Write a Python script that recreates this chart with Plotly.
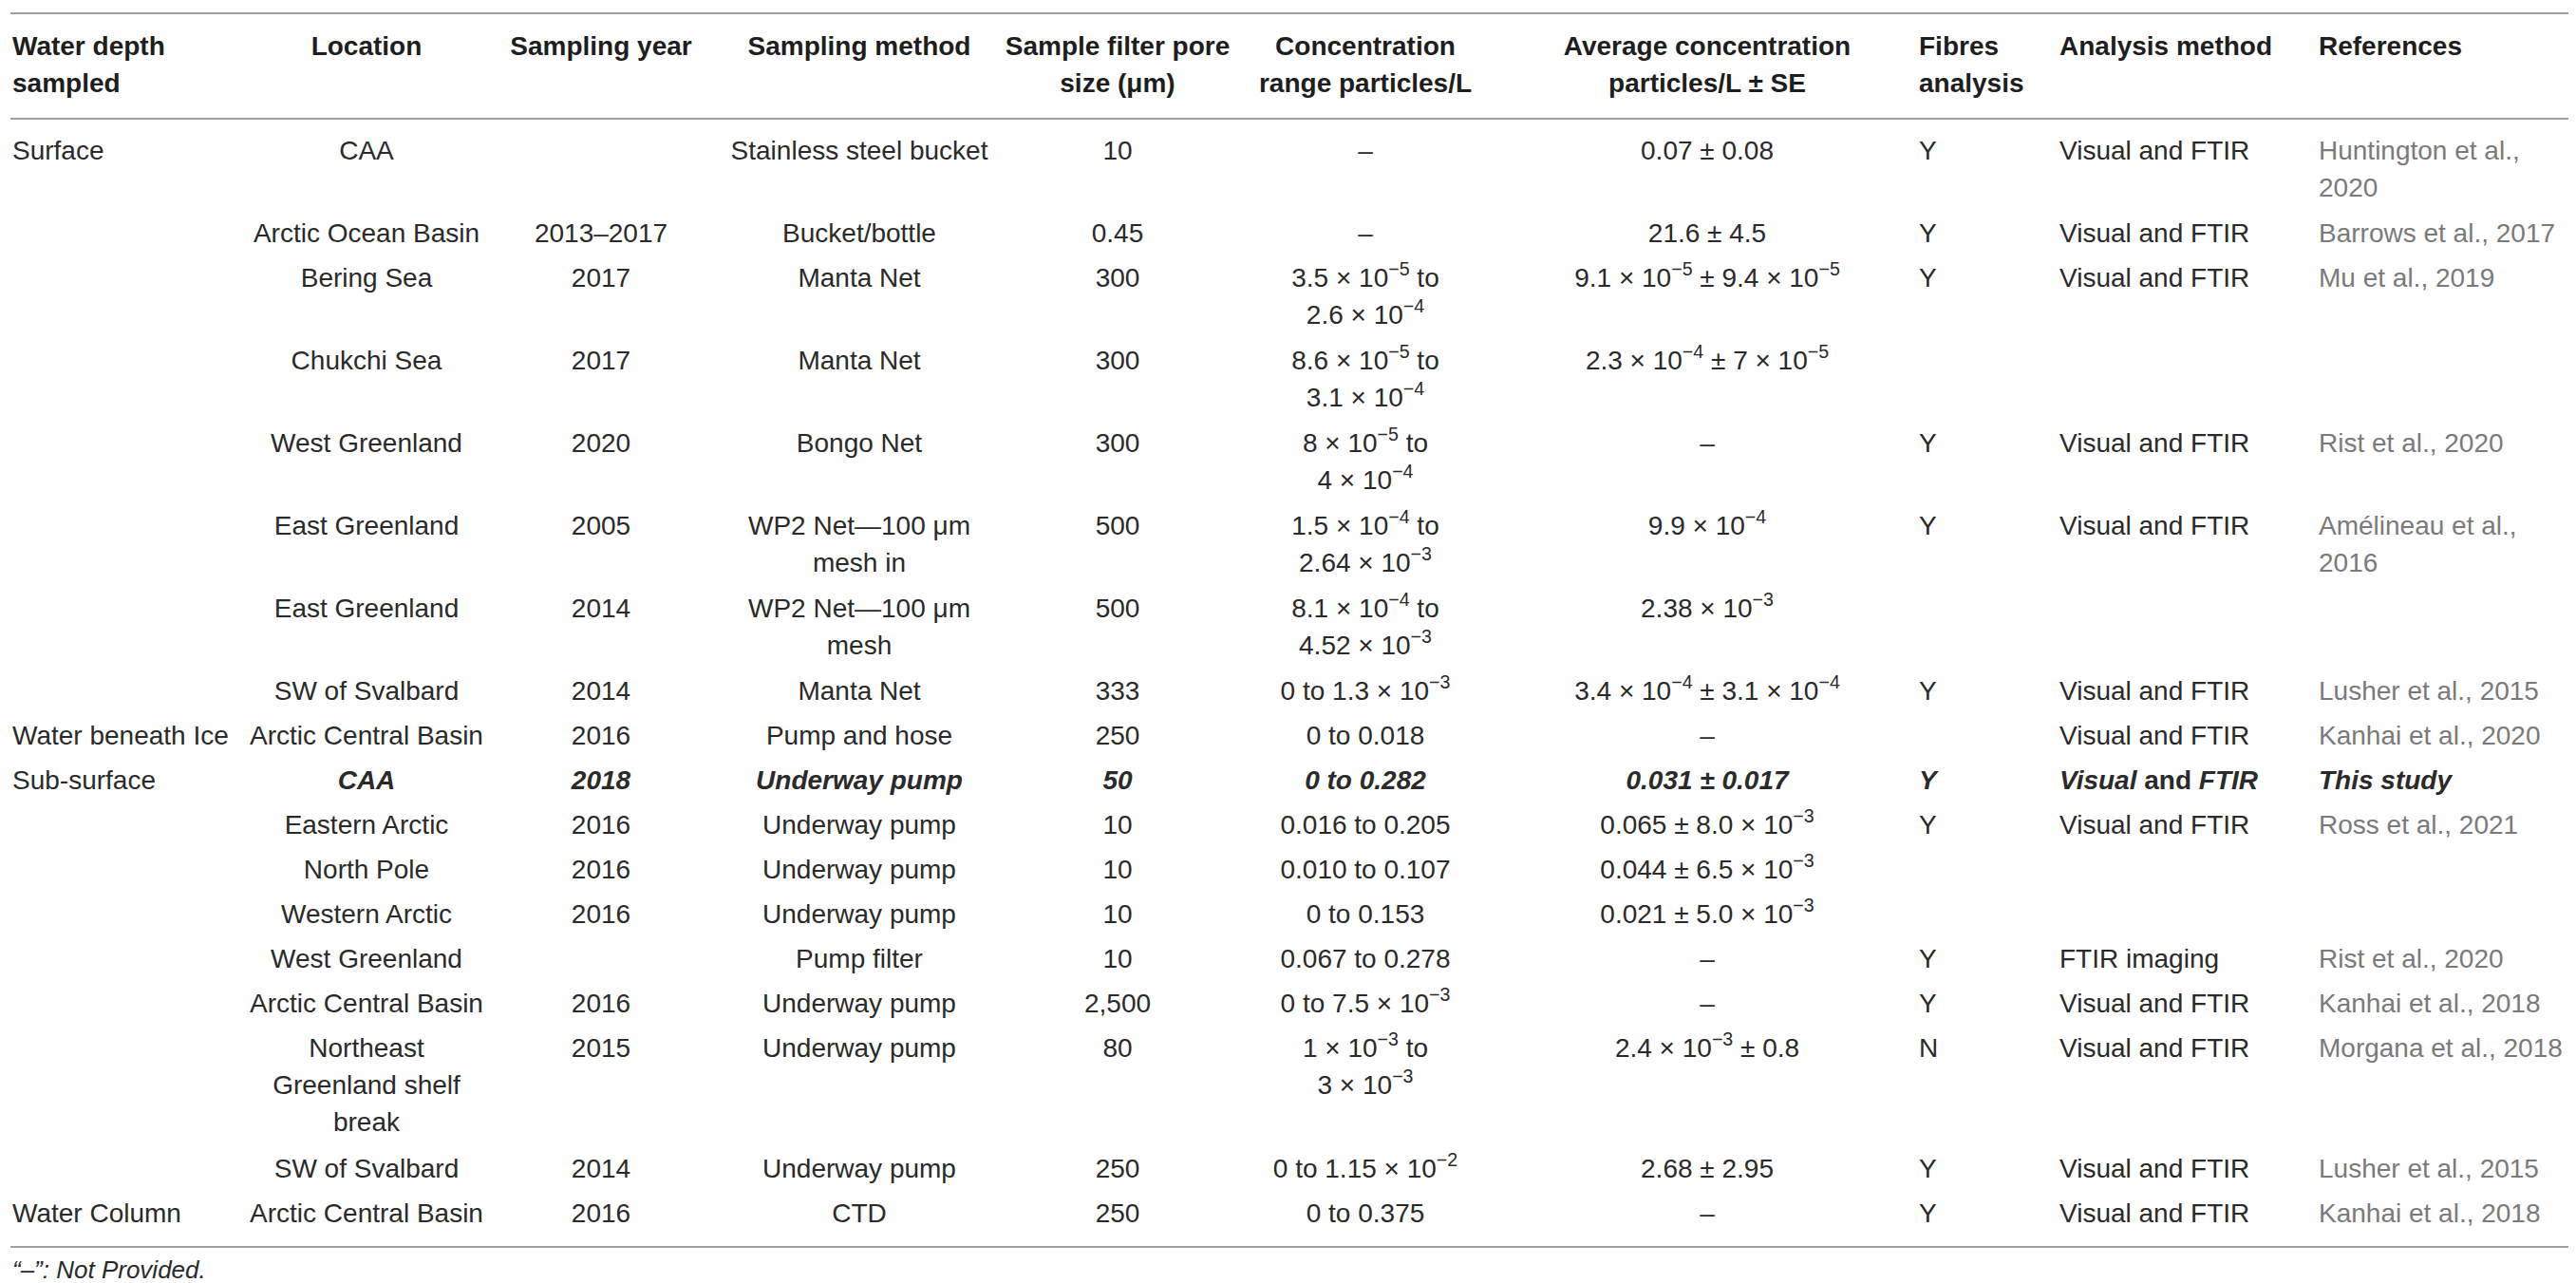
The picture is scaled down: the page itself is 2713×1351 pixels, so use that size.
import re
import plotly.graph_objects as go

# Table columns (one list per column, one entry per row, "\n" = line break in cell)
headers = ["Water depth\nsampled", "Location", "Sampling year", "Sampling method",
           "Sample filter pore\nsize (μm)", "Concentration\nrange particles/L",
           "Average concentration\nparticles/L ± SE", "Fibres\nanalysis",
           "Analysis method", "References"]

depth = ["Surface", "", "", "", "", "", "", "", "Water beneath Ice", "Sub-surface",
         "", "", "", "", "", "", "", "Water Column"]
location = ["CAA", "Arctic Ocean Basin", "Bering Sea", "Chukchi Sea", "West Greenland",
            "East Greenland", "East Greenland", "SW of Svalbard", "Arctic Central Basin",
            "CAA", "Eastern Arctic", "North Pole", "Western Arctic", "West Greenland",
            "Arctic Central Basin", "Northeast\nGreenland shelf\nbreak", "SW of Svalbard",
            "Arctic Central Basin"]
year = ["", "2013–2017", "2017", "2017", "2020", "2005", "2014", "2014", "2016", "2018",
        "2016", "2016", "2016", "", "2016", "2015", "2014", "2016"]
method = ["Stainless steel bucket", "Bucket/bottle", "Manta Net", "Manta Net", "Bongo Net",
          "WP2 Net—100 μm\nmesh in", "WP2 Net—100 μm\nmesh", "Manta Net", "Pump and hose",
          "Underway pump", "Underway pump", "Underway pump", "Underway pump", "Pump filter",
          "Underway pump", "Underway pump", "Underway pump", "CTD"]
pore_size = ["10", "0.45", "300", "300", "300", "500", "500", "333", "250", "50", "10",
             "10", "10", "10", "2,500", "80", "250", "250"]
conc_range = ["–", "–", "3.5 × 10^−5 to\n2.6 × 10^−4", "8.6 × 10^−5 to\n3.1 × 10^−4",
              "8 × 10^−5 to\n4 × 10^−4", "1.5 × 10^−4 to\n2.64 × 10^−3",
              "8.1 × 10^−4 to\n4.52 × 10^−3", "0 to 1.3 × 10^−3", "0 to 0.018",
              "0 to 0.282", "0.016 to 0.205", "0.010 to 0.107", "0 to 0.153",
              "0.067 to 0.278", "0 to 7.5 × 10^−3", "1 × 10^−3 to\n3 × 10^−3",
              "0 to 1.15 × 10^−2", "0 to 0.375"]
avg_conc = ["0.07 ± 0.08", "21.6 ± 4.5", "9.1 × 10^−5 ± 9.4 × 10^−5",
            "2.3 × 10^−4 ± 7 × 10^−5", "–", "9.9 × 10^−4", "2.38 × 10^−3",
            "3.4 × 10^−4 ± 3.1 × 10^−4", "–", "0.031 ± 0.017", "0.065 ± 8.0 × 10^−3",
            "0.044 ± 6.5 × 10^−3", "0.021 ± 5.0 × 10^−3", "–", "–",
            "2.4 × 10^−3 ± 0.8", "2.68 ± 2.95", "–"]
fibres = ["Y", "Y", "Y", "", "Y", "Y", "", "Y", "", "Y", "Y", "", "", "Y", "Y", "N", "Y", "Y"]
analysis = ["Visual and FTIR", "Visual and FTIR", "Visual and FTIR", "", "Visual and FTIR",
            "Visual and FTIR", "", "Visual and FTIR", "Visual and FTIR", "Visual and FTIR",
            "Visual and FTIR", "", "", "FTIR imaging", "Visual and FTIR", "Visual and FTIR",
            "Visual and FTIR", "Visual and FTIR"]
references = ["Huntington et al.,\n2020", "Barrows et al., 2017", "Mu et al., 2019", "",
              "Rist et al., 2020", "Amélineau et al.,\n2016", "", "Lusher et al., 2015",
              "Kanhai et al., 2020", "This study", "Ross et al., 2021", "", "",
              "Rist et al., 2020", "Kanhai et al., 2018", "Morgana et al., 2018",
              "Lusher et al., 2015", "Kanhai et al., 2018"]
footnote = "“–”: Not Provided."

columns = [depth, location, year, method, pore_size, conc_range, avg_conc,
           fibres, analysis, references]
this_study = 9  # row in bold italic

# layout / style
W, H = 2713, 1351
col_x = [5, 378, 625, 897, 1169, 1430, 1790, 2013, 2161, 2434]
col_align = ["left", "center", "center", "center", "center", "center", "center",
             "left", "left", "left"]
FONT = "Liberation Sans, Arial, sans-serif"
SIZE = 28
INK = "#2a2a2a"
REF_INK = "#7a7a7a"
RULE = "#a0a0a0"
LINE = 39
ROW = 47


def markup(s):
    return re.sub(r"\^(−?\d+)", r"<sup>\1</sup>", s)


def style_this_study(col, s):
    if col == 0 or not s:
        return s
    if col == 8:
        return "<b><i>Visual</i> and <i>FTIR</i></b>"
    return "<b><i>" + s + "</i></b>"


fig = go.Figure()

# header
rule_top = 6
head_y0 = 43
n_head = max(h.count("\n") + 1 for h in headers)
rule_mid = head_y0 + LINE * (n_head - 1) + 35
for c, h in enumerate(headers):
    lines = h.split("\n")
    pos = "middle right" if col_align[c] == "left" else "middle center"
    fig.add_trace(go.Scatter(
        x=[col_x[c]] * len(lines),
        y=[head_y0 + i * LINE for i in range(len(lines))],
        text=["<b>" + t + "</b>" for t in lines],
        mode="text", textposition=pos,
        textfont=dict(family=FONT, size=SIZE, color="#1e1e1e"),
        hoverinfo="skip", showlegend=False, cliponaxis=False))

# body rows
row_top = []
y = rule_mid + 36
for r in range(len(location)):
    row_top.append(y)
    n = max(col[r].count("\n") + 1 for col in columns)
    y += ROW + 40 * (n - 1)
rule_bot = row_top[-1] + 33

for c, col in enumerate(columns):
    xs, ys, txt, colors = [], [], [], []
    for r, cell in enumerate(col):
        if not cell:
            continue
        for i, line in enumerate(cell.split("\n")):
            t = markup(line)
            if r == this_study:
                t = style_this_study(c, t)
            xs.append(col_x[c])
            ys.append(row_top[r] + i * LINE)
            txt.append(t)
            colors.append(REF_INK if (c == 9 and r != this_study) else INK)
    pos = "middle right" if col_align[c] == "left" else "middle center"
    fig.add_trace(go.Scatter(
        x=xs, y=ys, text=txt, mode="text", textposition=pos,
        textfont=dict(family=FONT, size=SIZE, color=colors),
        hoverinfo="skip", showlegend=False, cliponaxis=False))

# footnote
fig.add_trace(go.Scatter(
    x=[col_x[0]], y=[rule_bot + 26], text=["<i>" + footnote + "</i>"],
    mode="text", textposition="middle right",
    textfont=dict(family=FONT, size=26, color=INK),
    hoverinfo="skip", showlegend=False, cliponaxis=False))

# horizontal rules
for yy in (rule_top, rule_mid, rule_bot):
    fig.add_shape(type="line", x0=3, x1=W - 5, y0=yy, y1=yy, xref="x", yref="y",
                  line=dict(color=RULE, width=2))

fig.update_layout(
    width=W, height=H,
    margin=dict(l=0, r=0, t=0, b=0),
    plot_bgcolor="white", paper_bgcolor="white",
    xaxis=dict(range=[0, W], visible=False, fixedrange=True),
    yaxis=dict(range=[H, 0], visible=False, fixedrange=True),
)

fig.write_html("out.html")
